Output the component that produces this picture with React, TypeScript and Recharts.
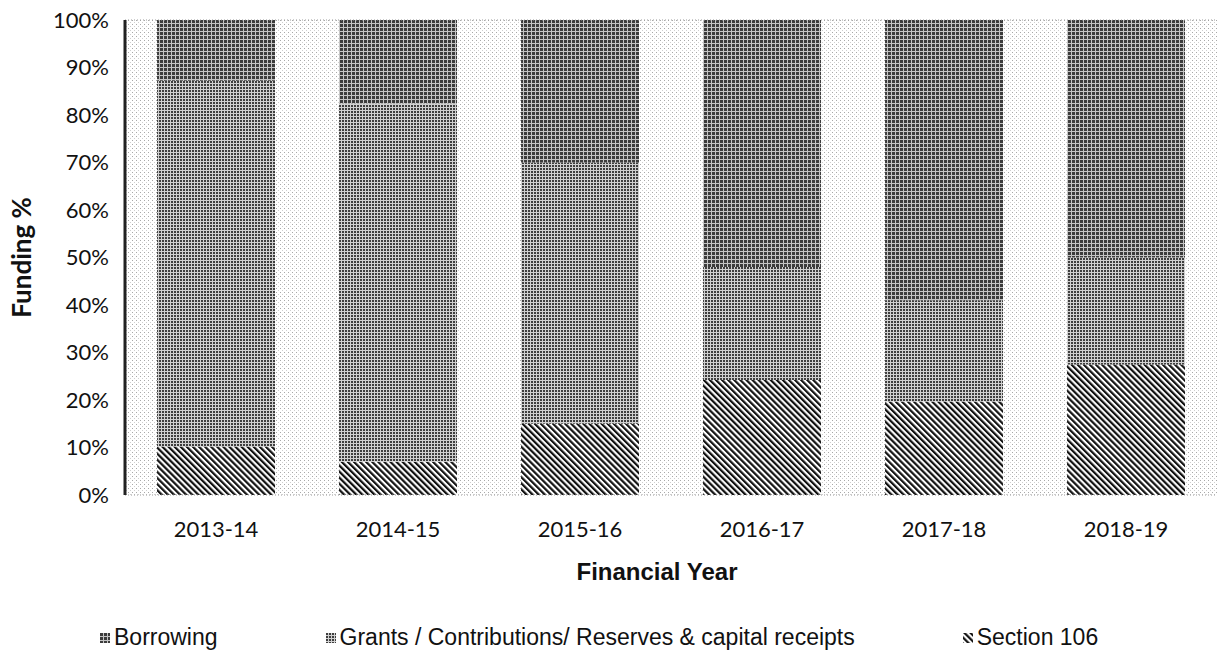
import React from 'react';
import { Bar, BarChart, CartesianGrid, Label, Legend, ReferenceLine, XAxis, YAxis } from 'recharts';

const years = ['2013-14', '2014-15', '2015-16', '2016-17', '2017-18', '2018-19'];
const borrowing = [12.8, 17.6, 30, 52, 59, 50];
const grants = [77, 75.4, 55, 23.8, 21.3, 22.5];
const section106 = [10.2, 7, 15, 24.2, 19.7, 27.5];
const yTicks = [0, 10, 20, 30, 40, 50, 60, 70, 80, 90, 100];

const seriesNames = {
  borrowing: 'Borrowing',
  grants: 'Grants / Contributions/ Reserves & capital receipts',
  section106: 'Section 106',
};

const data = years.map((year, i) => ({
  year,
  borrowing: borrowing[i],
  grants: grants[i],
  section106: section106[i],
}));

const legendItems = [
  { key: 'borrowing', fill: 'url(#pat-borrowing)' },
  { key: 'grants', fill: 'url(#pat-grants)' },
  { key: 'section106', fill: 'url(#pat-s106)' },
];

const tickFont = { fill: '#111', fontSize: 22, fontFamily: 'Lato' };

// legend drawn by hand so the little patterned squares match the scan
const FundingLegend = () => (
  <div
    style={{
      display: 'flex',
      alignItems: 'center',
      gap: 108,
      paddingLeft: 100,
      paddingTop: 10,
      fontFamily: '"Liberation Sans", Arial, sans-serif',
      fontSize: 23,
      lineHeight: '25px',
      color: '#111',
    }}
  >
    {legendItems.map((item) => (
      <div key={item.key} style={{ display: 'flex', alignItems: 'center' }}>
        <svg width={10} height={10} style={{ marginRight: 4 }}>
          <rect width={10} height={10} fill={item.fill} />
        </svg>
        <span>{seriesNames[item.key as keyof typeof seriesNames]}</span>
      </div>
    ))}
  </div>
);

export default function App() {
  return (
    <div style={{ position: 'absolute', left: 0, top: 0, background: '#fff' }}>
      <BarChart
        width={1217}
        height={660}
        data={data}
        margin={{ top: 20, right: 0, left: 0, bottom: 5 }}
        barCategoryGap="17.6%"
      >
        <defs>
          <pattern id="pat-bg" width={4} height={4} patternUnits="userSpaceOnUse">
            <rect width={4} height={4} fill="#ffffff" />
            <rect x={0} y={0} width={1} height={1} fill="#a8a8a8" />
            <rect x={2} y={2} width={1} height={1} fill="#cfcfcf" />
          </pattern>
          <pattern id="pat-borrowing" width={4} height={4} patternUnits="userSpaceOnUse">
            <rect width={4} height={4} fill="#c4c4c4" />
            <rect x={0} y={0} width={3} height={3} fill="#3c3c3c" />
          </pattern>
          <pattern id="pat-grants" width={3} height={3} patternUnits="userSpaceOnUse">
            <rect width={3} height={3} fill="#d0d0d0" />
            <rect x={0} y={0} width={2} height={2} fill="#3e3e3e" />
          </pattern>
          <pattern
            id="pat-s106"
            width={4.3}
            height={4.3}
            patternUnits="userSpaceOnUse"
            patternTransform="rotate(-45)"
          >
            <rect width={4.3} height={4.3} fill="#ffffff" />
            <rect x={0} y={0} width={2.2} height={4.3} fill="#111111" />
          </pattern>
        </defs>
        <CartesianGrid horizontal={false} vertical={false} fill="url(#pat-bg)" />
        <XAxis
          dataKey="year"
          height={120}
          tickLine={false}
          tickSize={0}
          tickMargin={26}
          axisLine={{ stroke: '#9a9a9a', strokeDasharray: '1 2' }}
          tick={tickFont}
        >
          <Label
            value="Financial Year"
            position="insideBottom"
            offset={35}
            dx={-14}
            style={{
              fontFamily: '"Liberation Sans", Arial, sans-serif',
              fontSize: 24,
              fontWeight: 700,
              fill: '#111',
            }}
          />
        </XAxis>
        <YAxis
          width={125}
          domain={[0, 100]}
          ticks={yTicks}
          interval={0}
          tickFormatter={(v) => `${v}%`}
          tickLine={false}
          tickSize={0}
          tickMargin={16}
          axisLine={{ stroke: '#222', strokeWidth: 3 }}
          tick={tickFont}
        >
          <Label
            value="Funding %"
            position="insideLeft"
            angle={-90}
            offset={22}
            style={{
              fontFamily: 'Lato',
              fontSize: 26,
              fontWeight: 700,
              fill: '#111',
              textAnchor: 'middle',
            }}
          />
        </YAxis>
        <ReferenceLine y={100} stroke="#9a9a9a" strokeDasharray="1 2" />
        <Legend verticalAlign="bottom" height={40} content={() => <FundingLegend />} />
        <Bar dataKey="section106" name={seriesNames.section106} stackId="f" fill="url(#pat-s106)" isAnimationActive={false} />
        <Bar dataKey="grants" name={seriesNames.grants} stackId="f" fill="url(#pat-grants)" isAnimationActive={false} />
        <Bar dataKey="borrowing" name={seriesNames.borrowing} stackId="f" fill="url(#pat-borrowing)" isAnimationActive={false} />
      </BarChart>
    </div>
  );
}
